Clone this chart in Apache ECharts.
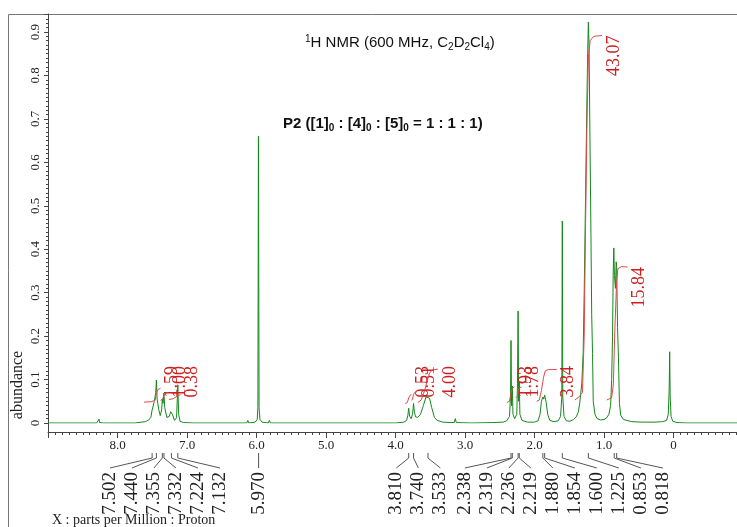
<!DOCTYPE html>
<html>
<head>
<meta charset="utf-8">
<script src="https://cdn.jsdelivr.net/npm/echarts@6/dist/echarts.min.js"></script>
<style>
  html, body { margin: 0; padding: 0; background: #fff; }
  #chart { width: 737px; height: 527px; }
</style>
</head>
<body>
<div id="chart"></div>
<script>
// spectrum trace: [ppm, abundance]
const spectrum = [
  [9.0, 0], [8.30, 0], [8.272, 0.001], [8.265, 0.009], [8.258, 0.001], [8.20, 0],
  [7.75, 0], [7.66, 0.002], [7.60, 0.003], [7.55, 0.007], [7.52, 0.013], [7.502, 0.03],
  [7.47, 0.05], [7.45, 0.07], [7.44, 0.099], [7.43, 0.055], [7.42, 0.058], [7.405, 0.03],
  [7.385, 0.017], [7.365, 0.03], [7.355, 0.055], [7.345, 0.045], [7.332, 0.069], [7.32, 0.035],
  [7.29, 0.013], [7.255, 0.015], [7.235, 0.026], [7.224, 0.028], [7.21, 0.02], [7.18, 0.006],
  [7.15, 0.012], [7.132, 0.088], [7.12, 0.02], [7.10, 0.004], [7.05, 0.001], [6.90, 0],
  [6.14, 0], [6.125, 0.006], [6.11, 0], [6.02, 0.002], [5.99, 0.008], [5.98, 0.035],
  [5.972, 0.66], [5.963, 0.035], [5.95, 0.008], [5.92, 0.002], [5.83, 0], [5.815, 0.006], [5.80, 0],
  [4.0, 0], [3.88, 0.002], [3.84, 0.006], [3.822, 0.018], [3.81, 0.034], [3.798, 0.016],
  [3.775, 0.01], [3.755, 0.02], [3.74, 0.045], [3.728, 0.025], [3.71, 0.014], [3.68, 0.013],
  [3.64, 0.02], [3.60, 0.04], [3.56, 0.06], [3.533, 0.064], [3.51, 0.057], [3.48, 0.036],
  [3.44, 0.013], [3.40, 0.006], [3.32, 0.002], [3.20, 0.001], [3.155, 0.001], [3.14, 0.01],
  [3.125, 0.001], [2.90, 0], [2.60, 0.001], [2.45, 0.002], [2.40, 0.005], [2.36, 0.015],
  [2.345, 0.06], [2.338, 0.19], [2.33, 0.04], [2.319, 0.085], [2.31, 0.02], [2.285, 0.01],
  [2.255, 0.02], [2.245, 0.09], [2.236, 0.258], [2.228, 0.05], [2.219, 0.095], [2.21, 0.02],
  [2.18, 0.006], [2.10, 0.002], [2.00, 0.002], [1.95, 0.005], [1.92, 0.02], [1.90, 0.05],
  [1.880, 0.06], [1.867, 0.055], [1.854, 0.064], [1.835, 0.05], [1.81, 0.02], [1.78, 0.006],
  [1.72, 0.003], [1.66, 0.005], [1.625, 0.015], [1.607, 0.06], [1.600, 0.465], [1.593, 0.06],
  [1.575, 0.015], [1.54, 0.005], [1.49, 0.004], [1.44, 0.008], [1.40, 0.014], [1.37, 0.025],
  [1.35, 0.045], [1.32, 0.09], [1.30, 0.16], [1.285, 0.3], [1.27, 0.47], [1.25, 0.70],
  [1.235, 0.85], [1.225, 0.923], [1.215, 0.87], [1.205, 0.70], [1.19, 0.47], [1.177, 0.25],
  [1.165, 0.16], [1.155, 0.05], [1.13, 0.02], [1.10, 0.01], [1.05, 0.007], [1.00, 0.008],
  [0.96, 0.012], [0.93, 0.02], [0.905, 0.04], [0.89, 0.1], [0.877, 0.2], [0.868, 0.34],
  [0.859, 0.403], [0.85, 0.34], [0.835, 0.31], [0.825, 0.371], [0.818, 0.36], [0.805, 0.22],
  [0.792, 0.15], [0.778, 0.045], [0.76, 0.018], [0.72, 0.008], [0.60, 0.003], [0.45, 0.002],
  [0.25, 0.002], [0.19, 0.003], [0.17, 0.006], [0.155, 0.003], [0.14, 0.005], [0.10, 0.006],
  [0.075, 0.02], [0.062, 0.08], [0.055, 0.164], [0.048, 0.06], [0.035, 0.015], [0.01, 0.004],
  [-0.05, 0.001], [-0.2, 0], [-1.0, 0]
];

// peak picks shown under the axis
const peakPpm = [7.502, 7.440, 7.355, 7.332, 7.224, 7.132, 5.970, 3.810, 3.740, 3.533,
  2.338, 2.319, 2.236, 2.219, 1.880, 1.854, 1.600, 1.225, 0.853, 0.818];

// integral traces [ppm, abundance] and their values
const intAro1 = [[7.62, 0.048], [7.52, 0.049], [7.46, 0.052], [7.44, 0.068], [7.42, 0.077], [7.38, 0.080]];
const intAro2 = [[7.38, 0.052], [7.35, 0.055], [7.33, 0.065], [7.30, 0.069], [7.27, 0.070]];
const intAro3 = [[7.26, 0.054], [7.20, 0.056], [7.14, 0.062], [7.12, 0.064], [7.09, 0.065]];
const int381 = [[3.86, 0.045], [3.83, 0.047], [3.81, 0.058], [3.79, 0.064], [3.77, 0.065]];
const int374 = [[3.77, 0.052], [3.755, 0.055], [3.74, 0.066], [3.72, 0.071], [3.69, 0.072]];
const int353 = [[3.68, 0.047], [3.63, 0.053], [3.58, 0.075], [3.54, 0.10], [3.51, 0.115], [3.47, 0.122], [3.39, 0.124]];
const int233 = [[2.40, 0.047], [2.36, 0.05], [2.335, 0.07], [2.32, 0.08], [2.29, 0.083]];
const int223 = [[2.27, 0.058], [2.245, 0.062], [2.23, 0.075], [2.215, 0.081], [2.19, 0.083]];
const int188 = [[1.97, 0.05], [1.93, 0.053], [1.90, 0.075], [1.87, 0.105], [1.845, 0.12], [1.80, 0.123], [1.68, 0.123]];
const int122 = [[1.42, 0.053], [1.36, 0.06], [1.31, 0.07], [1.285, 0.2], [1.265, 0.46], [1.245, 0.69], [1.225, 0.84], [1.20, 0.88], [1.15, 0.89], [1.03, 0.892]];
const int084 = [[0.96, 0.053], [0.89, 0.058], [0.865, 0.09], [0.845, 0.21], [0.82, 0.32], [0.80, 0.355], [0.75, 0.36], [0.66, 0.359]];
const intCurves = [intAro1, intAro2, intAro3, int381, int374, int353, int233, int223, int188, int122, int084];
const intLabels = ['1.59', '1.00', '0.38', '0.53', '0.51', '4.00', '1.93', '1.78', '3.84', '43.07', '15.84'];

const serif = "'Liberation Serif', 'Times New Roman', serif";
const sans = "'Liberation Sans', Arial, sans-serif";

// spread the peak labels with a minimum gap; each block is centred on the span of its peaks
function spreadLabels(xs, gap) {
  let blocks = xs.map((x) => ({ n: 1, lo: x, hi: x }));
  const centre = (b) => (b.lo + b.hi) / 2;
  let merged = true;
  while (merged) {
    merged = false;
    for (let k = 0; k < blocks.length - 1; k++) {
      const a = blocks[k], b = blocks[k + 1];
      const aEnd = centre(a) + (a.n - 1) * gap / 2;
      const bStart = centre(b) - (b.n - 1) * gap / 2;
      if (bStart - aEnd < gap) {
        a.n += b.n; a.hi = b.hi;
        blocks.splice(k + 1, 1);
        merged = true;
        break;
      }
    }
  }
  const out = [];
  blocks.forEach((bl) => {
    const c = centre(bl);
    for (let j = 0; j < bl.n; j++) out.push(c - (bl.n - 1) * gap / 2 + j * gap);
  });
  return out;
}

const chart = echarts.init(document.getElementById('chart'));

const option = {
  animation: false,
  grid: { left: 48, right: -6, top: 14, bottom: 104, outerBoundsMode: 'none' },
  xAxis: {
    type: 'value',
    inverse: true,
    min: -1,
    max: 9,
    interval: 1,
    offset: 9,
    splitLine: { show: false },
    axisLine: { onZero: false, lineStyle: { color: '#444', width: 1 } },
    axisTick: { length: 6, lineStyle: { color: '#444' } },
    minorTick: { show: true, splitNumber: 10, length: 3, lineStyle: { color: '#444' } },
    axisLabel: {
      color: '#222', fontFamily: serif, fontSize: 13, margin: 7,
      formatter: (v) => (v > 8.5 || v < -0.5) ? '' : (v === 0 ? '0' : v.toFixed(1))
    }
  },
  yAxis: {
    type: 'value',
    min: 0,
    max: 0.9415,
    interval: 0.1,
    splitLine: { show: false },
    axisLine: { show: true, onZero: false, lineStyle: { color: '#444', width: 1 } },
    axisTick: { show: true, length: 4, lineStyle: { color: '#444' } },
    minorTick: { show: true, splitNumber: 10, length: 2, lineStyle: { color: '#444' } },
    axisLabel: {
      rotate: 90, color: '#222', fontFamily: serif, fontSize: 13, margin: 6,
      showMaxLabel: false,
      formatter: (v) => v === 0 ? '0' : v.toFixed(1)
    }
  },
  graphic: [
    // outer frame
    { type: 'line', shape: { x1: 8.5, y1: 14.5, x2: 8.5, y2: 527 }, style: { stroke: '#777', lineWidth: 1 } },
    { type: 'line', shape: { x1: 8.5, y1: 14.5, x2: 737, y2: 14.5 }, style: { stroke: '#777', lineWidth: 1 } },
    { type: 'line', shape: { x1: 48.5, y1: 423, x2: 48.5, y2: 432 }, style: { stroke: '#444', lineWidth: 1 } },
    {
      type: 'text', x: 18, y: 385, rotation: Math.PI / 2,
      style: { text: 'abundance', font: '16px ' + serif, fill: '#222', align: 'center', verticalAlign: 'middle' }
    },
    {
      type: 'text', x: 52, y: 520,
      style: { text: 'X : parts per Million : Proton', font: '14px ' + serif, fill: '#222', align: 'left', verticalAlign: 'middle' }
    },
    {
      type: 'text', x: 305, y: 43,
      style: {
        text: '{sup|1}{n|H NMR (600 MHz, C}{sub|2}{n|D}{sub|2}{n|Cl}{sub|4}{n|)}',
        align: 'left', verticalAlign: 'middle',
        rich: {
          n: { fontFamily: sans, fontSize: 15, lineHeight: 18, fill: '#111' },
          sup: { fontFamily: sans, fontSize: 10, lineHeight: 10, verticalAlign: 'top', fill: '#111' },
          sub: { fontFamily: sans, fontSize: 10, lineHeight: 10, verticalAlign: 'bottom', fill: '#111' }
        }
      }
    },
    {
      type: 'text', x: 283, y: 124,
      style: {
        text: '{b|P2 ([1]}{s|0}{b| : [4]}{s|0}{b| : [5]}{s|0}{b| = 1 : 1 : 1)}',
        align: 'left', verticalAlign: 'middle',
        rich: {
          b: { fontFamily: sans, fontSize: 15, fontWeight: 'bold', lineHeight: 18, fill: '#111' },
          s: { fontFamily: sans, fontSize: 10, fontWeight: 'bold', lineHeight: 10, verticalAlign: 'bottom', fill: '#111' }
        }
      }
    }
  ],
  series: [
    {
      name: 'spectrum',
      type: 'line',
      data: spectrum,
      showSymbol: false,
      symbol: 'none',
      lineStyle: { color: '#13881c', width: 1 },
      z: 3
    },
    {
      name: 'integrals',
      type: 'custom',
      clip: false,
      z: 4,
      data: intCurves.map((c) => c[c.length - 1]),
      renderItem: (params, api) => {
        const i = params.dataIndex;
        const pts = intCurves[i].map((p) => api.coord(p));
        const end = pts[pts.length - 1];
        const topY = Math.min(end[1], api.coord([0, 0.131])[1]);
        return {
          type: 'group',
          children: [
            { type: 'polyline', shape: { points: pts }, style: { stroke: '#e04848', fill: null, lineWidth: 1 } },
            {
              type: 'text', x: end[0] + 12, y: topY, rotation: Math.PI / 2,
              style: { text: intLabels[i], font: '18px ' + serif, fill: '#cc2020', align: 'right', verticalAlign: 'middle' }
            }
          ]
        };
      }
    },
    {
      name: 'peaks',
      type: 'custom',
      clip: false,
      z: 4,
      data: peakPpm.map((p) => [p, 0]),
      renderItem: (params, api) => {
        const i = params.dataIndex;
        const xs = peakPpm.map((p) => api.coord([p, 0])[0]);
        const lx = spreadLabels(xs, 22);
        const y0 = api.coord([0, 0])[1];
        const px = xs[i];
        return {
          type: 'group',
          children: [
            {
              type: 'polyline',
              shape: { points: [[px, y0 + 30], [px, y0 + 35], [lx[i], y0 + 45]] },
              style: { stroke: '#555', fill: null, lineWidth: 1 }
            },
            {
              type: 'text', x: lx[i], y: y0 + 49, rotation: Math.PI / 2,
              style: { text: peakPpm[i].toFixed(3), font: '19px ' + serif, fill: '#222', align: 'right', verticalAlign: 'middle' }
            }
          ]
        };
      }
    }
  ]
};

chart.setOption(option);
</script>
</body>
</html>
